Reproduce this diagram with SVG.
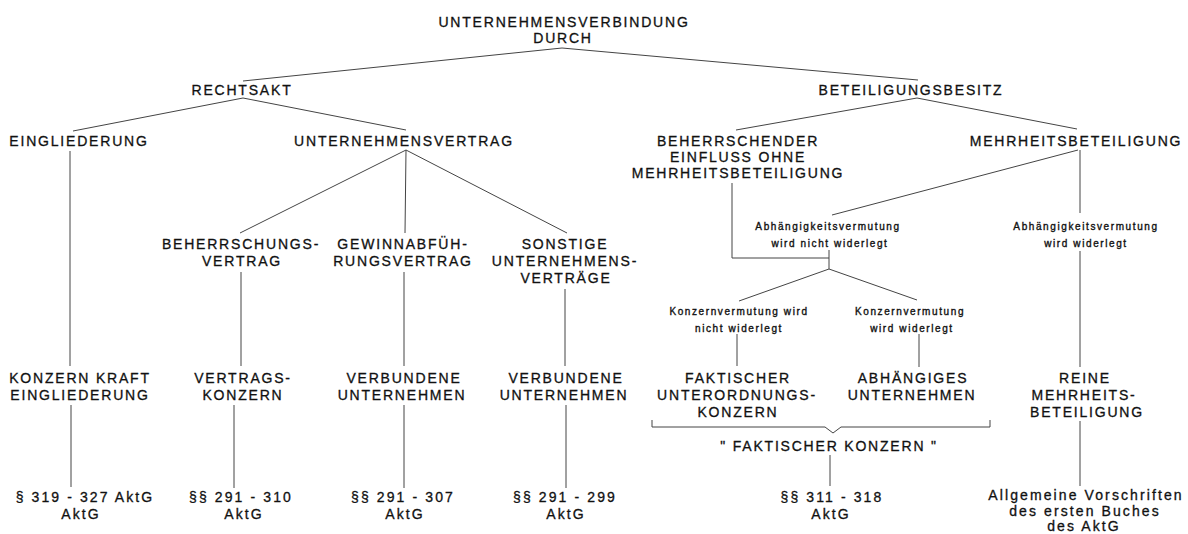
<svg xmlns="http://www.w3.org/2000/svg" width="1188" height="534" viewBox="0 0 1188 534">
<style>
text{font-family:"Liberation Sans",Arial,sans-serif;fill:#111;stroke:#111;stroke-width:0.3px;text-anchor:middle}
.c{font-size:14px;letter-spacing:1.8px}
.s{font-size:10px;letter-spacing:1.6px;stroke-width:0.35px}
.l{font-size:14px;letter-spacing:2.1px}
.conn line,.conn polyline,.conn path{stroke:#444;stroke-width:1;fill:none}
</style>
<rect width="1188" height="534" fill="#fff"/>
<g class="conn" id="connectors">
<line x1="562" y1="48" x2="243" y2="81"/>
<line x1="562" y1="48" x2="918" y2="80"/>
<line x1="243" y1="98" x2="73" y2="131"/>
<line x1="243" y1="98" x2="406" y2="130"/>
<line x1="917" y1="98" x2="736" y2="130"/>
<line x1="917" y1="98" x2="1077" y2="129"/>
<line x1="70" y1="151" x2="70" y2="366"/>
<line x1="406" y1="150" x2="240" y2="233"/>
<line x1="406" y1="150" x2="405" y2="233"/>
<line x1="406" y1="150" x2="567" y2="233"/>
<line x1="241" y1="272" x2="241" y2="366"/>
<line x1="404" y1="272" x2="404" y2="366"/>
<line x1="565" y1="289" x2="565" y2="366"/>
<line x1="71" y1="405" x2="71" y2="487"/>
<line x1="234" y1="405" x2="234" y2="488"/>
<line x1="404" y1="405" x2="404" y2="488"/>
<line x1="566" y1="405" x2="566" y2="488"/>
<polyline points="732,183 732,258 829,258"/>
<line x1="829" y1="250" x2="829" y2="269"/>
<line x1="829" y1="269" x2="739" y2="301"/>
<line x1="829" y1="269" x2="917" y2="300"/>
<line x1="1078" y1="150" x2="832" y2="215"/>
<line x1="1080" y1="150" x2="1080" y2="213"/>
<line x1="1080" y1="251" x2="1080" y2="367"/>
<line x1="737" y1="334" x2="737" y2="366"/>
<line x1="919" y1="334" x2="919" y2="367"/>
<path d="M652,420 V427 H825 L833,433 L841,427 H990 V420"/>
<line x1="830" y1="455" x2="830" y2="486"/>
<line x1="1080" y1="421" x2="1080" y2="486"/>
</g>
<g id="n-root"><text class="c" x="564" y="27">UNTERNEHMENSVERBINDUNG</text><text class="c" x="563" y="43">DURCH</text></g>
<g id="n-rechtsakt"><text class="c" x="242" y="95">RECHTSAKT</text></g>
<g id="n-beteiligungsbesitz"><text class="c" x="911" y="95">BETEILIGUNGSBESITZ</text></g>
<g id="n-eingliederung"><text class="c" x="79" y="146">EINGLIEDERUNG</text></g>
<g id="n-unternehmensvertrag"><text class="c" x="404" y="146">UNTERNEHMENSVERTRAG</text></g>
<g id="n-beherrschender"><text class="c" x="738" y="146">BEHERRSCHENDER</text><text class="c" x="738" y="162">EINFLUSS OHNE</text><text class="c" x="738" y="178">MEHRHEITSBETEILIGUNG</text></g>
<g id="n-mehrheitsbeteiligung"><text class="c" x="1076" y="146">MEHRHEITSBETEILIGUNG</text></g>
<g id="n-abh-nicht"><text class="s" x="828" y="230">Abhängigkeitsvermutung</text><text class="s" x="830" y="247">wird nicht widerlegt</text></g>
<g id="n-abh-wider"><text class="s" x="1086" y="230">Abhängigkeitsvermutung</text><text class="s" x="1086" y="247">wird widerlegt</text></g>
<g id="n-beherrschungsvertrag"><text class="c" x="241" y="249">BEHERRSCHUNGS-</text><text class="c" x="242" y="266">VERTRAG</text></g>
<g id="n-gewinnabfuehrung"><text class="c" x="403" y="249">GEWINNABFÜH-</text><text class="c" x="403" y="266">RUNGSVERTRAG</text></g>
<g id="n-sonstige"><text class="c" x="565" y="249">SONSTIGE</text><text class="c" x="565" y="266">UNTERNEHMENS-</text><text class="c" x="566" y="283">VERTRÄGE</text></g>
<g id="n-konzern-nicht"><text class="s" x="739" y="315">Konzernvermutung wird</text><text class="s" x="739" y="332">nicht widerlegt</text></g>
<g id="n-konzern-wider"><text class="s" x="910" y="315">Konzernvermutung</text><text class="s" x="912" y="332">wird widerlegt</text></g>
<g id="n-konzern-kraft"><text class="c" x="80" y="383">KONZERN KRAFT</text><text class="c" x="80" y="400">EINGLIEDERUNG</text></g>
<g id="n-vertragskonzern"><text class="c" x="243" y="383">VERTRAGS-</text><text class="c" x="243" y="400">KONZERN</text></g>
<g id="n-verbunden1"><text class="c" x="404" y="383">VERBUNDENE</text><text class="c" x="402" y="400">UNTERNEHMEN</text></g>
<g id="n-verbunden2"><text class="c" x="566" y="383">VERBUNDENE</text><text class="c" x="564" y="400">UNTERNEHMEN</text></g>
<g id="n-faktischer-unterordnung"><text class="c" x="738" y="383">FAKTISCHER</text><text class="c" x="737" y="400">UNTERORDNUNGS-</text><text class="c" x="738" y="417">KONZERN</text></g>
<g id="n-abhaengiges"><text class="c" x="913" y="383">ABHÄNGIGES</text><text class="c" x="912" y="400">UNTERNEHMEN</text></g>
<g id="n-reine"><text class="c" x="1085" y="383">REINE</text><text class="c" x="1084" y="400">MEHRHEITS-</text><text class="c" x="1087" y="417">BETEILIGUNG</text></g>
<g id="n-faktischer-konzern"><text class="c" x="829" y="451">" FAKTISCHER KONZERN "</text></g>
<g id="n-p319"><text class="l" x="85" y="502">§ 319 - 327 AktG</text><text class="l" x="81" y="519">AktG</text></g>
<g id="n-p291-310"><text class="l" x="241" y="502">§§ 291 - 310</text><text class="l" x="244" y="519">AktG</text></g>
<g id="n-p291-307"><text class="l" x="403" y="502">§§ 291 - 307</text><text class="l" x="405" y="519">AktG</text></g>
<g id="n-p291-299"><text class="l" x="565" y="502">§§ 291 - 299</text><text class="l" x="566" y="519">AktG</text></g>
<g id="n-p311"><text class="l" x="832" y="502">§§ 311 - 318</text><text class="l" x="831" y="519">AktG</text></g>
<g id="n-allgemein"><text class="l" x="1086" y="500">Allgemeine Vorschriften</text><text class="l" x="1085" y="516">des ersten Buches</text><text class="l" x="1084" y="531">des AktG</text></g>
</svg>
